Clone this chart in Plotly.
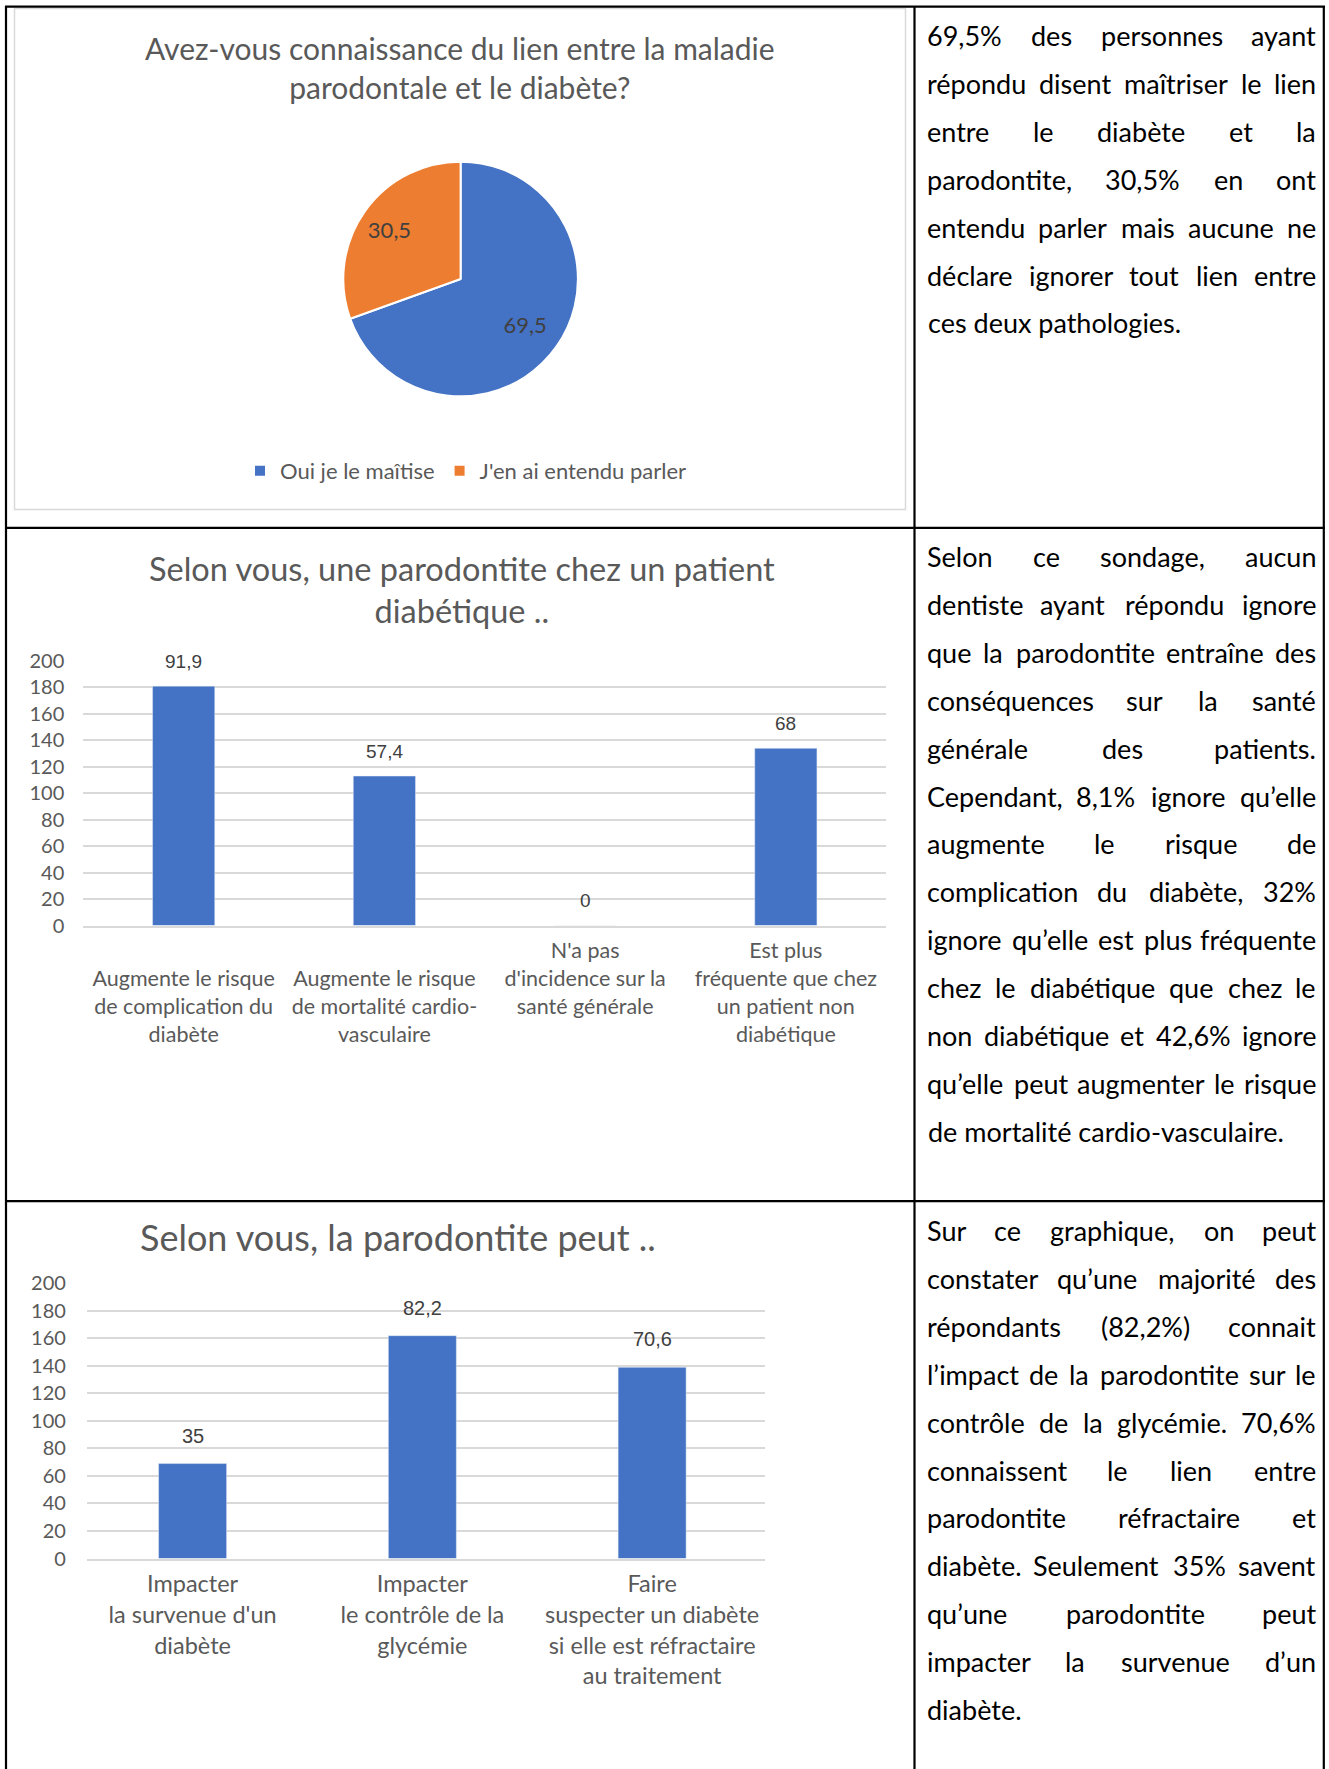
import plotly.graph_objects as go

W, H = 1329, 1769

# ---- data ----
pie_labels = ["Oui je le maîtise", "J'en ai entendu parler"]
pie_values = [69.5, 30.5]
pie_colors = ["#4472C4", "#ED7D31"]

q2_categories = [
    "<br>Augmente le risque<br>de complication du<br>diabète",
    "<br>Augmente le risque<br>de mortalité cardio-<br>vasculaire",
    "N'a pas<br>d'incidence sur la<br>santé générale",
    "Est plus<br>fréquente que chez<br>un patient non<br>diabétique",
]
q2_counts = [181, 113, 0, 134]
q2_pct = [91.9, 57.4, 0, 68]

q3_categories = [
    "Impacter<br>la survenue d'un<br>diabète",
    "Impacter<br>le contrôle de la<br>glycémie",
    "Faire<br>suspecter un diabète<br>si elle est réfractaire<br>au traitement",
]
q3_counts = [69, 162, 139]
q3_pct = [35, 82.2, 70.6]

y_ticks = list(range(0, 201, 20))

row1_text = [
    "69,5% des personnes ayant",
    "répondu disent maîtriser le lien",
    "entre le diabète et la",
    "parodontite, 30,5% en ont",
    "entendu parler mais aucune ne",
    "déclare ignorer tout lien entre",
    "ces deux pathologies.",
]
row2_text = [
    "Selon ce sondage, aucun",
    "dentiste ayant répondu ignore",
    "que la parodontite entraîne des",
    "conséquences sur la santé",
    "générale des patients.",
    "Cependant, 8,1% ignore qu’elle",
    "augmente le risque de",
    "complication du diabète, 32%",
    "ignore qu’elle est plus fréquente",
    "chez le diabétique que chez le",
    "non diabétique et 42,6% ignore",
    "qu’elle peut augmenter le risque",
    "de mortalité cardio-vasculaire.",
]
row3_text = [
    "Sur ce graphique, on peut",
    "constater qu’une majorité des",
    "répondants (82,2%) connait",
    "l’impact de la parodontite sur le",
    "contrôle de la glycémie. 70,6%",
    "connaissent le lien entre",
    "parodontite réfractaire et",
    "diabète. Seulement 35% savent",
    "qu’une parodontite peut",
    "impacter la survenue d’un",
    "diabète.",
]


def px(x):
    return x / W


def py(y):
    return 1 - y / H


def fr(v):
    return f"{v:g}".replace(".", ",")


GREY = "#595959"
DARK = "#404040"
GRID = "#d9d9d9"
FONT = "Lato"
LABEL_FONT = "Liberation Sans Narrow, Liberation Sans, Arial"

fig = go.Figure()

# pie (slices)
fig.add_trace(go.Pie(
    labels=pie_labels, values=pie_values, sort=False,
    direction="clockwise", rotation=0,
    marker=dict(colors=pie_colors, line=dict(color="white", width=2)),
    textinfo="none",
    domain=dict(x=[px(343.3), px(577.9)], y=[py(396.3), py(161.7)]),
    hoverinfo="label+value",
))
# transparent copy, a bit larger, only to carry the value labels further out like Excel does
fig.add_trace(go.Pie(
    labels=pie_labels, values=pie_values, sort=False,
    direction="clockwise", rotation=0,
    marker=dict(colors=["rgba(0,0,0,0)"] * 2, line=dict(width=0)),
    text=[fr(v) for v in pie_values], textinfo="text",
    textposition="inside", insidetextorientation="horizontal",
    textfont=dict(family=FONT, size=22, color=DARK),
    domain=dict(x=[px(302.6), px(618.6)], y=[py(437), py(121)]),
    showlegend=False, hoverinfo="skip",
))

# bars chart 2
fig.add_trace(go.Bar(
    x=q2_categories, y=q2_counts, width=0.31,
    marker_color="#4472C4", showlegend=False,
    xaxis="x", yaxis="y",
))

# bars chart 3
fig.add_trace(go.Bar(
    x=q3_categories, y=q3_counts, width=0.296,
    marker_color="#4472C4", showlegend=False,
    xaxis="x2", yaxis="y2",
))

annotations = []

# data labels
for c, n, p in zip(q2_categories, q2_counts, q2_pct):
    annotations.append(dict(x=c, y=n, xref="x", yref="y", text=fr(p), showarrow=False,
                            yshift=25, xanchor="center", yanchor="middle",
                            font=dict(family=LABEL_FONT, size=19, color=DARK)))
for c, n, p in zip(q3_categories, q3_counts, q3_pct):
    annotations.append(dict(x=c, y=n, xref="x2", yref="y2", text=fr(p), showarrow=False,
                            yshift=28, xanchor="center", yanchor="middle",
                            font=dict(family=LABEL_FONT, size=20, color=DARK)))

# chart titles
annotations.append(dict(x=px(460), y=py(67), xref="paper", yref="paper", showarrow=False,
                        text="Avez-vous connaissance du lien entre la maladie<br>parodontale et le diabète?",
                        font=dict(family=FONT, size=30, color=GREY), xanchor="center", yanchor="middle"))
annotations.append(dict(x=px(462), y=py(589), xref="paper", yref="paper", showarrow=False,
                        text="Selon vous, une parodontite chez un patient<br>diabétique ..",
                        font=dict(family=FONT, size=32.5, color=GREY), xanchor="center", yanchor="middle"))
annotations.append(dict(x=px(398), y=py(1237), xref="paper", yref="paper", showarrow=False,
                        text="Selon vous, la parodontite peut ..",
                        font=dict(family=FONT, size=36, color=GREY), xanchor="center", yanchor="middle"))

# justified text in the right column
CW = {" ": 0.26, "i": 0.24, "l": 0.24, "j": 0.24, ".": 0.22, ",": 0.22, "’": 0.22, "'": 0.22,
      "î": 0.24, "f": 0.31, "r": 0.36, "t": 0.34, "s": 0.42, "z": 0.45, "c": 0.45, "k": 0.5,
      "x": 0.49, "v": 0.5, "y": 0.5, "e": 0.52, "é": 0.52, "è": 0.52, "a": 0.5, "â": 0.5,
      "g": 0.5, "m": 0.84, "w": 0.77, "%": 0.82, "(": 0.3, ")": 0.3, "-": 0.34,
      "C": 0.65, "S": 0.52, "O": 0.75, "N": 0.74, "A": 0.67, "E": 0.55, "I": 0.27}


def word_w(w, size):
    return sum(CW.get(ch, 0.58 if ch.isdigit() else 0.56) for ch in w) * size


TX0, TX1, TSIZE, TSTEP = 926.5, 1317, 27, 47.9


def add_paragraph(lines, y0):
    for i, line in enumerate(lines):
        y = py(y0 + i * TSTEP)
        words = line.split()
        font = dict(family=FONT, size=TSIZE, color="black")
        if i == len(lines) - 1 or len(words) == 1:
            annotations.append(dict(x=px(TX0), y=y, xref="paper", yref="paper", text=line,
                                    showarrow=False, xanchor="left", yanchor="middle",
                                    borderpad=0, font=font))
            continue
        widths = [word_w(w, TSIZE) for w in words]
        gap = (TX1 - TX0 - sum(widths)) / (len(words) - 1)
        pos = TX0
        for j, (w, wd) in enumerate(zip(words, widths)):
            if j == 0:
                x, anchor = TX0, "left"
            elif j == len(words) - 1:
                x, anchor = TX1, "right"
            else:
                x, anchor = pos + wd / 2, "center"
            annotations.append(dict(x=px(x), y=y, xref="paper", yref="paper", text=w,
                                    showarrow=False, xanchor=anchor, yanchor="middle",
                                    borderpad=0, font=font))
            pos += wd + gap


add_paragraph(row1_text, 35.5)
add_paragraph(row2_text, 556.5)
add_paragraph(row3_text, 1230.5)

# table borders and chart frame
shapes = [
    dict(type="rect", xref="paper", yref="paper", x0=px(14.5), x1=px(905.5), y0=py(509.5), y1=py(8.5),
         line=dict(color=GRID, width=1.5)),
]
for x in [6, 914.5, 1323.8]:
    shapes.append(dict(type="line", xref="paper", yref="paper", x0=px(x), x1=px(x), y0=py(6), y1=py(1775),
                       line=dict(color="black", width=2.2)))
for y in [6.7, 527.8, 1201.2]:
    shapes.append(dict(type="line", xref="paper", yref="paper", x0=px(5), x1=px(1325), y0=py(y), y1=py(y),
                       line=dict(color="black", width=2.2)))

axis_common = dict(showgrid=False, ticks="", showline=True, linecolor=GRID, linewidth=1.5,
                   type="category", fixedrange=True, automargin=False)
yaxis_common = dict(range=[0, 200], tickvals=y_ticks, showgrid=True, gridcolor=GRID, gridwidth=1.5,
                    zeroline=False, showline=False, ticks="", fixedrange=True, automargin=False)

fig.update_layout(
    width=W, height=H, margin=dict(l=0, r=0, t=0, b=0, autoexpand=False), autosize=False,
    paper_bgcolor="white", plot_bgcolor="white",
    font=dict(family=FONT, color=GREY),
    xaxis=dict(domain=[px(83.3), px(886.2)], anchor="y", range=[-0.5, 3.5],
               tickfont=dict(size=21.5, color=GREY), ticklabelstandoff=5, **axis_common),
    yaxis=dict(domain=[py(925.5), py(661)], anchor="x",
               tickfont=dict(size=20, color=GREY), ticklabelstandoff=18, **yaxis_common),
    xaxis2=dict(domain=[px(86.9), px(764.7)], anchor="y2", range=[-0.46, 2.49],
                tickfont=dict(size=23.5, color=GREY), ticklabelstandoff=4, **axis_common),
    yaxis2=dict(domain=[py(1558.5), py(1283.4)], anchor="x2",
                tickfont=dict(size=20, color=GREY), ticklabelstandoff=20, **yaxis_common),
    legend=dict(orientation="h", x=px(466), xanchor="center", y=py(471), yanchor="middle",
                font=dict(family=FONT, size=22, color=GREY), bgcolor="rgba(0,0,0,0)"),
    annotations=annotations,
    shapes=shapes,
)

fig.write_html(
    "out.html",
    config={"displayModeBar": False},
    post_script="var gd=document.getElementById('{plot_id}');gd.style.position='absolute';"
                "gd.style.left='0px';gd.style.top='0px';"
                "document.body.style.margin='0px';document.body.style.overflow='hidden';",
)
